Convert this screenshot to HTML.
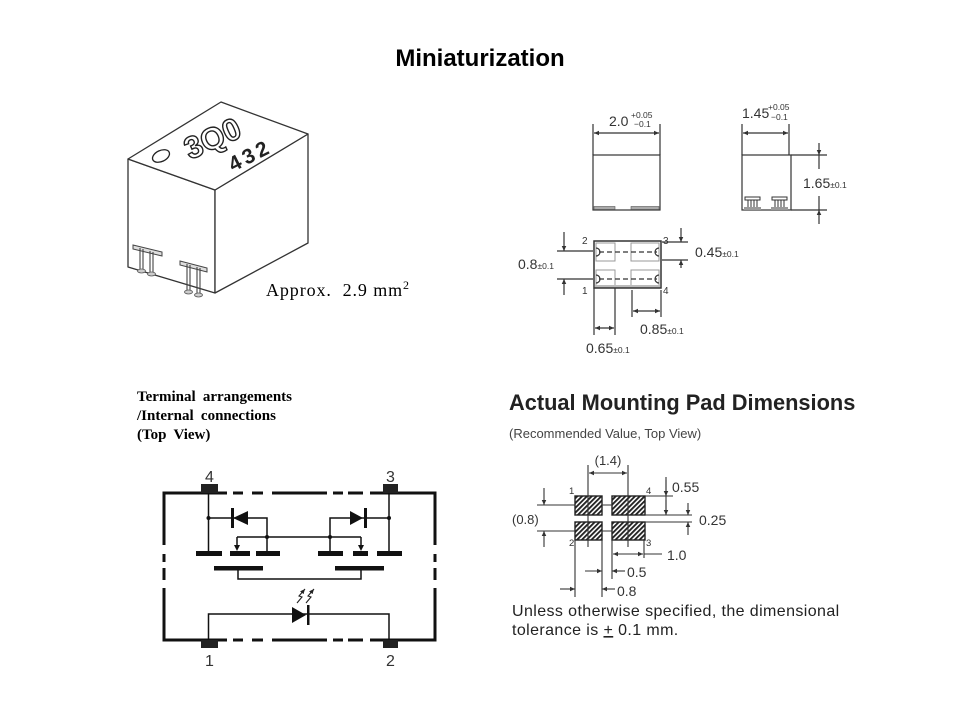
<!DOCTYPE html>
<html><head><meta charset="utf-8"><style>
html,body{margin:0;padding:0;background:#fff;}
svg{display:block;}
</style></head><body>
<svg width="960" height="720" viewBox="0 0 960 720" xmlns="http://www.w3.org/2000/svg">
<defs>
<marker id="ar" viewBox="0 0 10 10" refX="10" refY="5" markerUnits="userSpaceOnUse" markerWidth="6" markerHeight="5" orient="auto-start-reverse"><path d="M0,0.5L10,5L0,9.5z" fill="#333"/></marker>
<marker id="ar2" viewBox="0 0 10 10" refX="10" refY="5" markerUnits="userSpaceOnUse" markerWidth="5" markerHeight="5" orient="auto"><path d="M0,0.5L10,5L0,9.5z" fill="#222"/></marker>
<pattern id="hatch" patternUnits="userSpaceOnUse" width="3.4" height="3.4" patternTransform="rotate(45)"><rect width="3.4" height="3.4" fill="#fff"/><line x1="0.9" y1="0" x2="0.9" y2="3.4" stroke="#222" stroke-width="1.9"/></pattern>
</defs>
<rect width="960" height="720" fill="#fff"/>

<!-- Title -->
<text x="480" y="66" text-anchor="middle" font-family="Liberation Sans, Arial, sans-serif" font-weight="bold" font-size="24" fill="#000">Miniaturization</text>

<!-- Isometric component -->
<g stroke="#333" stroke-width="1.3" fill="#fff" stroke-linejoin="round">
  <polygon points="128,159 215,190 215,293 128,267"/>
  <polygon points="215,190 308,134 308,243 215,293"/>
  <polygon points="128,159 221,102 308,134 215,190"/>
</g>
<ellipse cx="161" cy="156" rx="9" ry="5.5" transform="rotate(-25 161 156)" fill="none" stroke="#222" stroke-width="1.3"/>
<g transform="translate(190,160) rotate(-24)">
  <text font-family="Liberation Sans, Arial, sans-serif" font-weight="bold" font-size="31" fill="#fff" stroke="#222" stroke-width="1.4">3Q0</text>
</g>
<g transform="translate(233,172) rotate(-27)">
  <text font-family="Liberation Sans, Arial, sans-serif" font-weight="bold" font-size="21" letter-spacing="3.5" fill="#222">432</text>
</g>
<!-- legs -->
<g stroke="#444" stroke-width="1" fill="#ddd">
  <polygon points="133,245 162,252 162,256 133,249"/>
  <polygon points="180,261 207,268 207,272 180,265"/>
</g>
<g stroke="#444" stroke-width="1.1" fill="none">
  <path d="M140,248V269 M143,249V270 M150,251V272 M153,252V273"/>
  <path d="M187,264V290 M190,265V291 M197,267V293 M200,268V294"/>
</g>
<g fill="#ccc" stroke="#555" stroke-width="0.8">
  <ellipse cx="141.5" cy="271" rx="4" ry="2"/>
  <ellipse cx="151.5" cy="274" rx="4" ry="2"/>
  <ellipse cx="188.5" cy="292" rx="4" ry="2"/>
  <ellipse cx="198.5" cy="295" rx="4" ry="2"/>
</g>
<text x="266" y="296" font-family="Liberation Serif, Times New Roman, serif" font-size="18" letter-spacing="0.9" fill="#000">Approx.&#160; 2.9 mm<tspan font-size="12" dy="-7">2</tspan></text>

<!-- Front view -->
<g stroke="#333" stroke-width="1.2" fill="none">
  <rect x="593" y="155" width="67" height="55"/>
  <path d="M593,124V155 M660,124V155"/>
  <line x1="594" y1="133" x2="659" y2="133" marker-start="url(#ar)" marker-end="url(#ar)"/>
</g>
<rect x="594" y="206.5" width="21" height="3" fill="#aaa" stroke="#555" stroke-width="0.6"/>
<rect x="631" y="206.5" width="28" height="3" fill="#aaa" stroke="#555" stroke-width="0.6"/>
<g font-family="Liberation Sans, Arial, sans-serif" fill="#333">
  <text x="609" y="126" font-size="14">2.0</text>
  <text x="631" y="118" font-size="8.5">+0.05</text>
  <text x="634" y="127" font-size="8.5">−0.1</text>
</g>

<!-- Side view -->
<g stroke="#333" stroke-width="1.2" fill="none">
  <rect x="742" y="155" width="49" height="55"/>
  <path d="M742,124V155 M789,124V155"/>
  <line x1="743" y1="133" x2="788" y2="133" marker-start="url(#ar)" marker-end="url(#ar)"/>
  <path d="M791,155H827 M791,210H827"/>
  <line x1="819" y1="143" x2="819" y2="155" marker-end="url(#ar)"/>
  <path d="M819,155V169 M819,196V210"/>
  <line x1="819" y1="224" x2="819" y2="210" marker-end="url(#ar)"/>
</g>
<g stroke="#333" stroke-width="1" fill="none">
  <rect x="745" y="197" width="15" height="3"/>
  <path d="M748,200V208 M751,200V208 M754,200V208 M757,200V208"/>
  <rect x="772" y="197" width="15" height="3"/>
  <path d="M775,200V208 M778,200V208 M781,200V208 M784,200V208"/>
</g>
<rect x="744" y="207" width="17" height="3" fill="#999"/>
<rect x="771" y="207" width="17" height="3" fill="#999"/>
<g font-family="Liberation Sans, Arial, sans-serif" fill="#333">
  <text x="742" y="118" font-size="14">1.45</text>
  <text x="768" y="110" font-size="8.5">+0.05</text>
  <text x="771" y="120" font-size="8.5">−0.1</text>
  <text x="803" y="188" font-size="14">1.65<tspan font-size="8.5">±0.1</tspan></text>
</g>

<!-- Bottom view -->
<g stroke="#999" stroke-width="1" fill="none">
  <rect x="596" y="243" width="19" height="18"/>
  <rect x="631" y="243" width="28" height="18"/>
  <rect x="596" y="270" width="19" height="17"/>
  <rect x="631" y="270" width="28" height="17"/>
</g>
<rect x="595" y="285" width="65" height="3" fill="#bbb"/>
<g stroke="#333" stroke-width="1.2" fill="none">
  <path d="M599,252H657 M599,279H657" stroke-dasharray="5,3"/>
  <path d="M596,248A4,4 0 0 1 596,256 M596,275A4,4 0 0 1 596,283 M659,248A4,4 0 0 0 659,256 M659,275A4,4 0 0 0 659,283"/>
  <rect x="594" y="241" width="67" height="47" stroke-width="1.5"/>
  <path d="M557,251H593 M557,279H593"/>
  <line x1="564" y1="232" x2="564" y2="251" marker-end="url(#ar)"/>
  <line x1="564" y1="295" x2="564" y2="279" marker-end="url(#ar)"/>
  <path d="M662,242H688 M662,260H688"/>
  <line x1="681" y1="228" x2="681" y2="242" marker-end="url(#ar)"/>
  <line x1="681" y1="268" x2="681" y2="260" marker-end="url(#ar)"/>
  <path d="M594,288V335 M615,288V335"/>
  <line x1="595" y1="328" x2="614" y2="328" marker-start="url(#ar)" marker-end="url(#ar)"/>
  <path d="M632,290V317 M661,290V317"/>
  <line x1="633" y1="311" x2="660" y2="311" marker-start="url(#ar)" marker-end="url(#ar)"/>
</g>
<g font-family="Liberation Sans, Arial, sans-serif" fill="#333">
  <text x="582" y="244" font-size="10">2</text>
  <text x="663" y="244" font-size="10">3</text>
  <text x="582" y="294" font-size="10">1</text>
  <text x="663" y="294" font-size="10">4</text>
  <text x="518" y="269" font-size="14">0.8<tspan font-size="8.5">±0.1</tspan></text>
  <text x="695" y="257" font-size="14">0.45<tspan font-size="8.5">±0.1</tspan></text>
  <text x="586" y="353" font-size="14">0.65<tspan font-size="8.5">±0.1</tspan></text>
  <text x="640" y="334" font-size="14">0.85<tspan font-size="8.5">±0.1</tspan></text>
</g>

<!-- Terminal arrangements -->
<g font-family="Liberation Serif, Times New Roman, serif" font-weight="bold" font-size="15" word-spacing="3.5" fill="#000">
  <text x="137" y="401">Terminal arrangements</text>
  <text x="137" y="420">/Internal connections</text>
  <text x="137" y="439">(Top View)</text>
</g>

<!-- Circuit -->
<g stroke="#111" stroke-width="3" fill="none" stroke-linejoin="miter">
  <path d="M227,493H164V545 M233,493H243 M252,493H263 M272,493H327 M333,493H343 M348,493H363 M370,493H435V545"/>
  <path d="M164,554V562 M164,568V580 M435,554V562 M435,568V580"/>
  <path d="M164,588V640H227 M233,640H243 M252,640H263 M272,640H327 M333,640H343 M348,640H363 M370,640H435V588"/>
</g>
<g fill="#222">
  <rect x="201" y="484" width="17" height="9"/>
  <rect x="383" y="484" width="15" height="9"/>
  <rect x="201" y="640" width="17" height="8"/>
  <rect x="383" y="640" width="15" height="8"/>
</g>
<g stroke="#111" stroke-width="1.5" fill="none">
  <path d="M208.5,493V553 M208.5,518H267V553 M237,537H361 M237,537V547 M361,537V547"/>
  <path d="M238,570V579H361V570"/>
  <path d="M208.5,640V614H389V640"/>
  <path d="M389,493V553 M389,518H330V553"/>
</g>
<g fill="#111">
  <rect x="196" y="551" width="26" height="5"/>
  <rect x="230" y="551" width="20" height="5"/>
  <rect x="256" y="551" width="24" height="5"/>
  <rect x="318" y="551" width="25" height="5"/>
  <rect x="353" y="551" width="15" height="5"/>
  <rect x="377" y="551" width="25" height="5"/>
  <rect x="214" y="566" width="49" height="4.5"/>
  <rect x="335" y="566" width="49" height="4.5"/>
  <polygon points="234,545 240,545 237,551"/>
  <polygon points="358,545 364,545 361,551"/>
  <polygon points="233,518 248,511 248,525"/>
  <rect x="231" y="508" width="3" height="20"/>
  <polygon points="363,518 350,511 350,525"/>
  <rect x="364" y="508" width="3" height="20"/>
  <polygon points="306,615 292,607 292,623"/>
  <rect x="307" y="605" width="2.5" height="20"/>
  <circle cx="208.5" cy="518" r="2"/>
  <circle cx="267" cy="537" r="2"/>
  <circle cx="389" cy="518" r="2"/>
  <circle cx="330" cy="537" r="2"/>
</g>
<g stroke="#222" stroke-width="1.1" fill="none">
  <polyline points="297,603 302,597 299,596 305,589" marker-end="url(#ar2)"/>
  <polyline points="306,603 311,597 308,596 314,589" marker-end="url(#ar2)"/>
</g>
<g font-family="Liberation Sans, Arial, sans-serif" font-size="16" fill="#333" text-anchor="middle">
  <text x="209.5" y="482">4</text>
  <text x="390.5" y="482">3</text>
  <text x="209.5" y="666">1</text>
  <text x="390.5" y="666">2</text>
</g>

<!-- Mounting pad -->
<text x="509" y="410" font-family="Liberation Sans, Arial, sans-serif" font-weight="bold" font-size="21.8" fill="#222">Actual Mounting Pad Dimensions</text>
<text x="509" y="438" font-family="Liberation Sans, Arial, sans-serif" font-size="13" fill="#444">(Recommended Value, Top View)</text>

<g stroke="#222" stroke-width="1.4" fill="url(#hatch)">
  <rect x="575" y="496" width="27" height="19"/>
  <rect x="612" y="496" width="33" height="19"/>
  <rect x="575" y="522" width="27" height="18"/>
  <rect x="612" y="522" width="33" height="18"/>
</g>
<g stroke="#333" stroke-width="1.1" fill="none">
  <path d="M588,465V547 M628,465V547"/>
  <line x1="589" y1="473" x2="627" y2="473" marker-start="url(#ar)" marker-end="url(#ar)"/>
  <path d="M537,505H575 M602,505H612 M537,531H575 M602,531H612"/>
  <line x1="544" y1="488" x2="544" y2="505" marker-end="url(#ar)"/>
  <line x1="544" y1="547" x2="544" y2="531" marker-end="url(#ar)"/>
  <path d="M645,496H673 M645,515H692 M645,522H692"/>
  <path d="M666,477V515"/>
  <line x1="666" y1="480" x2="666" y2="496" marker-end="url(#ar)"/>
  <line x1="666" y1="500" x2="666" y2="515" marker-end="url(#ar)"/>
  <line x1="688" y1="503" x2="688" y2="515" marker-end="url(#ar)"/>
  <line x1="688" y1="535" x2="688" y2="522" marker-end="url(#ar)"/>
  <path d="M612,540V579 M644,540V558 M602,540V597 M575,540V597"/>
  <line x1="644" y1="554" x2="662" y2="554"/>
  <line x1="613" y1="554" x2="643" y2="554" marker-start="url(#ar)" marker-end="url(#ar)"/>
  <line x1="585" y1="571" x2="602" y2="571" marker-end="url(#ar)"/>
  <line x1="625" y1="571" x2="612" y2="571" marker-end="url(#ar)"/>
  <line x1="560" y1="589" x2="575" y2="589" marker-end="url(#ar)"/>
  <line x1="615" y1="589" x2="602" y2="589" marker-end="url(#ar)"/>
</g>
<g font-family="Liberation Sans, Arial, sans-serif" fill="#333">
  <text x="569" y="494" font-size="9.5">1</text>
  <text x="646" y="494" font-size="9.5">4</text>
  <text x="569" y="546" font-size="9.5">2</text>
  <text x="646" y="546" font-size="9.5">3</text>
  <text x="608" y="465" font-size="13" text-anchor="middle">(1.4)</text>
  <text x="512" y="524" font-size="13">(0.8)</text>
  <text x="672" y="492" font-size="14">0.55</text>
  <text x="699" y="525" font-size="14">0.25</text>
  <text x="667" y="560" font-size="14">1.0</text>
  <text x="627" y="577" font-size="14">0.5</text>
  <text x="617" y="596" font-size="14">0.8</text>
</g>
<g font-family="Liberation Sans, Arial, sans-serif" font-size="16" letter-spacing="0.4" fill="#222">
  <text x="512" y="616">Unless otherwise specified, the dimensional</text>
  <text x="512" y="635">tolerance is <tspan text-decoration="underline">+</tspan> 0.1 mm.</text>
</g>
</svg>
</body></html>
